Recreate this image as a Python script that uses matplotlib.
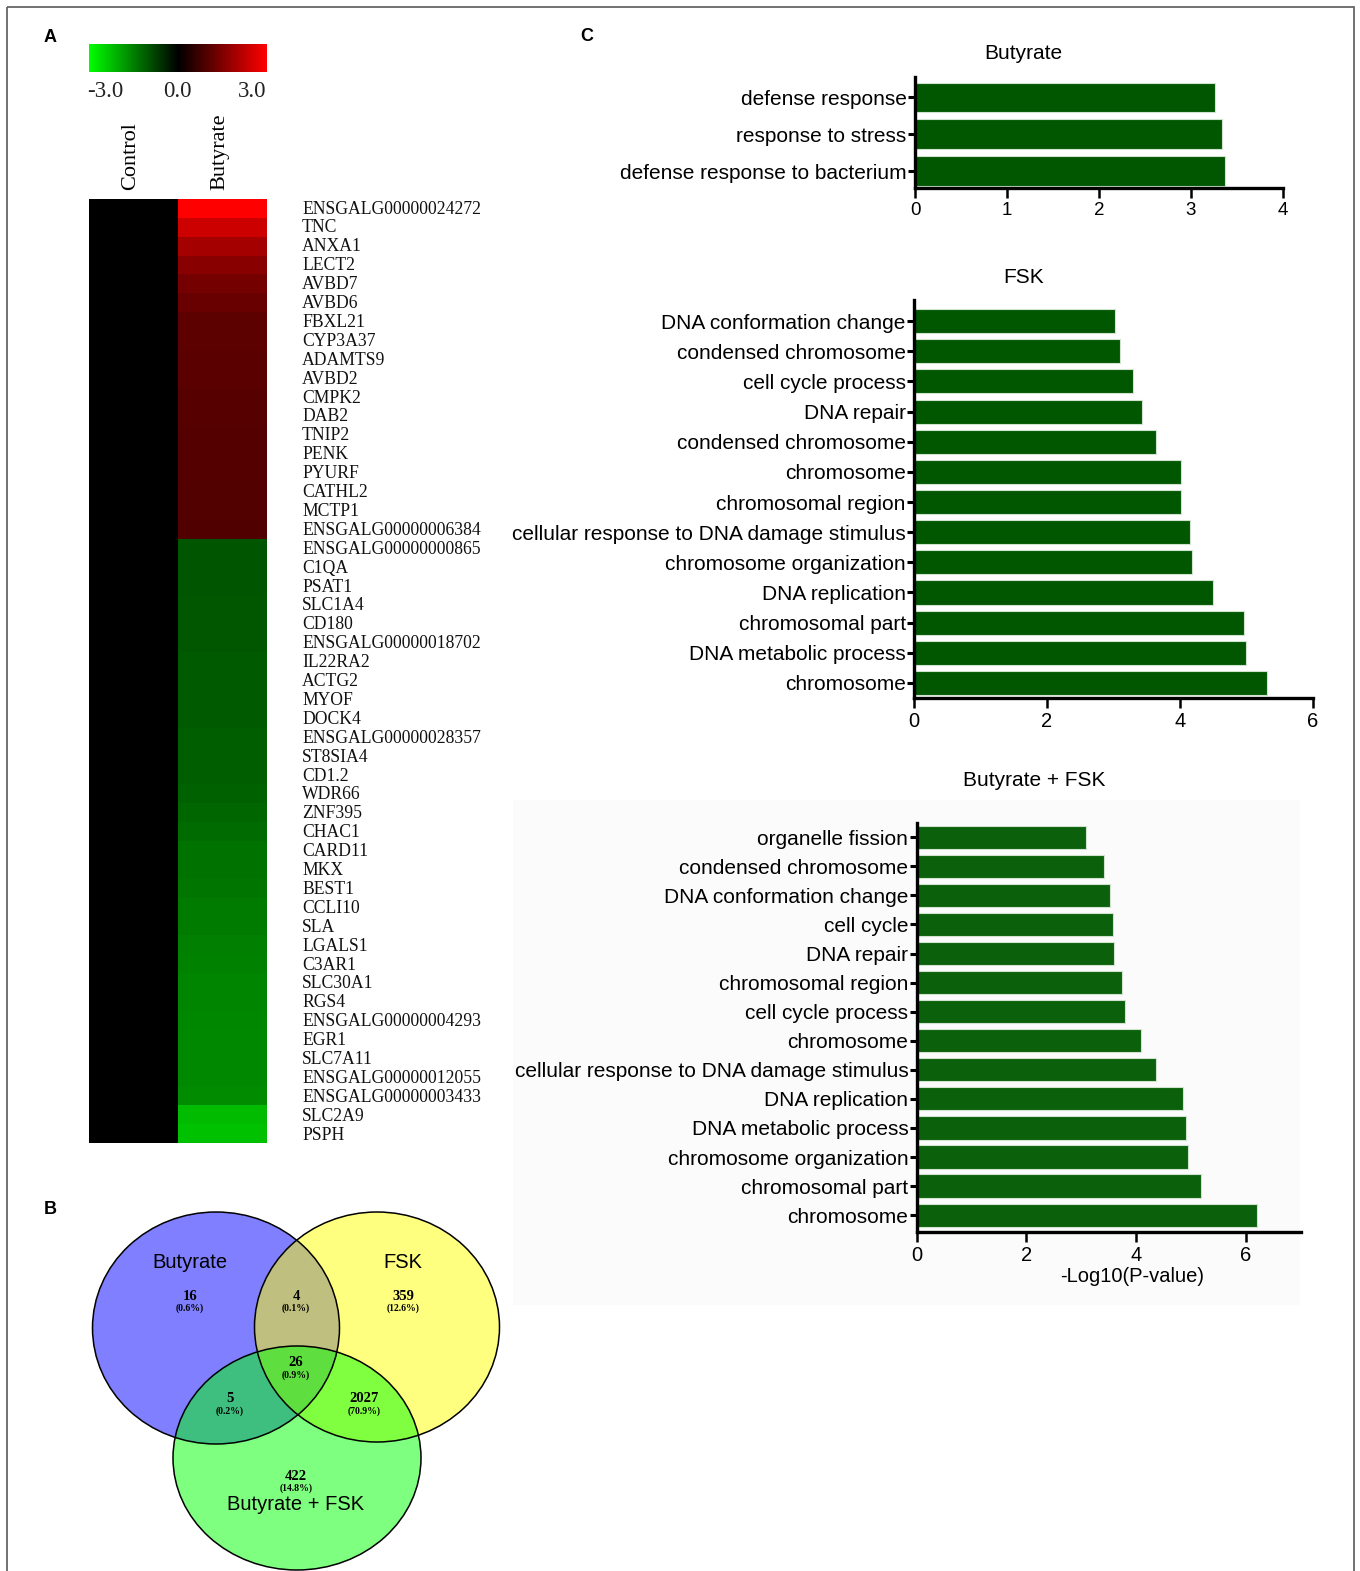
import numpy as np
import matplotlib
matplotlib.use("Agg")
import matplotlib.pyplot as plt
from matplotlib.colors import LinearSegmentedColormap
from matplotlib.patches import Ellipse, Rectangle

W, H = 1360, 1571

# ---------------- data ----------------
genes = ["ENSGALG00000024272", "TNC", "ANXA1", "LECT2", "AVBD7", "AVBD6", "FBXL21",
         "CYP3A37", "ADAMTS9", "AVBD2", "CMPK2", "DAB2", "TNIP2", "PENK", "PYURF",
         "CATHL2", "MCTP1", "ENSGALG00000006384", "ENSGALG00000000865", "C1QA", "PSAT1",
         "SLC1A4", "CD180", "ENSGALG00000018702", "IL22RA2", "ACTG2", "MYOF", "DOCK4",
         "ENSGALG00000028357", "ST8SIA4", "CD1.2", "WDR66", "ZNF395", "CHAC1", "CARD11",
         "MKX", "BEST1", "CCLI10", "SLA", "LGALS1", "C3AR1", "SLC30A1", "RGS4",
         "ENSGALG00000004293", "EGR1", "SLC7A11", "ENSGALG00000012055",
         "ENSGALG00000003433", "SLC2A9", "PSPH"]
control_vals = [0.0] * 50
butyrate_vals = [3.0, 2.4, 1.93, 1.6, 1.36, 1.22, 1.08, 1.08, 1.07, 1.06, 1.02, 1.01,
                 1.0, 1.0, 0.99, 0.98, 0.97, 0.96,
                 -1.0, -1.0, -1.0, -1.01, -1.02, -1.03, -1.06, -1.06, -1.07, -1.07,
                 -1.08, -1.09, -1.1, -1.13, -1.2, -1.25, -1.34, -1.35, -1.36, -1.44,
                 -1.45, -1.5, -1.51, -1.56, -1.57, -1.58, -1.6, -1.6, -1.61, -1.62,
                 -2.2, -2.26]
heat_cols = ["Control", "Butyrate"]
cbar_ticks = [-3.0, 0.0, 3.0]

venn_sets = ["Butyrate", "FSK", "Butyrate + FSK"]
venn_counts = {"B": 16, "F": 359, "BF": 4, "BFK": 26, "BK": 5, "FK": 2027, "K": 422}
venn_pct = {"B": "0.6%", "F": "12.6%", "BF": "0.1%", "BFK": "0.9%", "BK": "0.2%",
            "FK": "70.9%", "K": "14.8%"}

but_terms = ["defense response", "response to stress", "defense response to bacterium"]
but_vals = [3.26, 3.34, 3.37]

fsk_terms = ["DNA conformation change", "condensed chromosome", "cell cycle process",
             "DNA repair", "condensed chromosome", "chromosome", "chromosomal region",
             "cellular response to DNA damage stimulus", "chromosome organization",
             "DNA replication", "chromosomal part", "DNA metabolic process", "chromosome"]
fsk_vals = [3.03, 3.10, 3.30, 3.43, 3.64, 4.01, 4.01, 4.15, 4.18, 4.49, 4.96, 4.99, 5.31]

bf_terms = ["organelle fission", "condensed chromosome", "DNA conformation change",
            "cell cycle", "DNA repair", "chromosomal region", "cell cycle process",
            "chromosome", "cellular response to DNA damage stimulus", "DNA replication",
            "DNA metabolic process", "chromosome organization", "chromosomal part",
            "chromosome"]
bf_vals = [3.08, 3.42, 3.52, 3.58, 3.60, 3.75, 3.79, 4.10, 4.37, 4.85, 4.91, 4.95,
           5.18, 6.20]

# ---------------- figure ----------------
fig = plt.figure(figsize=(W / 100, H / 100), dpi=100)
SANS = ["Liberation Sans", "DejaVu Sans"]
SERIF = ["Liberation Serif", "DejaVu Serif"]


def px_axes(x0, y0, x1, y1, **kw):
    return fig.add_axes([x0 / W, 1 - y1 / H, (x1 - x0) / W, (y1 - y0) / H], **kw)


# overlay axes in pixel coordinates
ov = px_axes(0, 0, W, H)
ov.set_xlim(0, W)
ov.set_ylim(H, 0)
ov.axis("off")
ov.add_patch(Rectangle((7, 7), 1347, H, fill=False, ec="#666666", lw=1.3))
ov.add_patch(Rectangle((513, 800), 787, 505, fc="#fbfbfb", ec="none"))
for lab, (x, y) in {"A": (50, 37), "B": (50, 1210), "C": (587, 36)}.items():
    ov.text(x, y, lab, ha="center", va="center", fontsize=13, fontweight="bold",
            family=SANS)

# ---------------- A: heatmap ----------------
cmap = LinearSegmentedColormap.from_list("gbr", ["#00ff00", "#000000", "#ff0000"])
hm = px_axes(89, 199, 266, 1143)
data = np.column_stack([control_vals, butyrate_vals])
hm.imshow(data, cmap=cmap, vmin=-3, vmax=3, aspect="auto", interpolation="nearest")
hm.set_xticks([])
hm.set_yticks([])
for s in hm.spines.values():
    s.set_visible(False)

for i, g in enumerate(genes):
    y = 209 + i * 18.9
    ov.text(302, y, g, ha="left", va="center", fontsize=12.7, family=SERIF,
            color="#111111")

for j, c in enumerate(heat_cols):
    ov.text(131 + j * 89, 190, c, rotation=90, ha="center", va="bottom", fontsize=16,
            family=SERIF)

cb = px_axes(89, 44, 266, 72)
cb.imshow(np.linspace(-3, 3, 256)[None, :], cmap=cmap, vmin=-3, vmax=3, aspect="auto",
          extent=[-3, 3, 0, 1])
cb.axis("off")
for t, x in zip(cbar_ticks, [105, 177, 252]):
    ov.text(x, 91, f"{t:.1f}", ha="center", va="center", fontsize=16.5,
            family=SERIF, color="#222222")

# ---------------- B: Venn ----------------
ells = [((216, 1328), 247, 232, (0, 0, 1)),
        ((377, 1327), 245, 230, (1, 1, 0)),
        ((297, 1458), 248, 224, (0, 1, 0))]
for (c, w, h, col) in ells:
    ov.add_patch(Ellipse(c, w, h, fc=col, alpha=0.5, ec="none"))
for (c, w, h, col) in ells:
    ov.add_patch(Ellipse(c, w, h, fill=False, ec="black", lw=1.1))
ov.text(190, 1263, venn_sets[0], ha="center", va="center", fontsize=14.5, family=SANS)
ov.text(403, 1263, venn_sets[1], ha="center", va="center", fontsize=14.5, family=SANS)
ov.text(296, 1505, venn_sets[2], ha="center", va="center", fontsize=14.5, family=SANS)
vpos = {"B": (190, 1296), "BF": (296, 1296), "F": (403, 1296), "BFK": (296, 1363),
        "BK": (230, 1399), "FK": (364, 1399), "K": (296, 1476)}
for k, (x, y) in vpos.items():
    ov.text(x, y, str(venn_counts[k]), ha="center", va="center", fontsize=10.5,
            fontweight="bold", family=SERIF)
    ov.text(x, y + 12, f"({venn_pct[k]})", ha="center", va="center", fontsize=7,
            fontweight="bold", family=SERIF)

# ---------------- C: bar charts ----------------
def barchart(x0, x1, y_top, y_bot, terms, vals, xmax, ticks, color, yl, tick_fs=14.5,
             lab_fs=15):
    ax = px_axes(x0, y_top, x1, y_bot)
    n = len(terms)
    ax.barh(range(n), vals, height=0.8, color=color, edgecolor="#cfe3cf", linewidth=0.8)
    ax.set_xlim(0, xmax)
    ax.set_ylim(yl[1], yl[0])
    ax.set_yticks(range(n))
    ax.set_yticklabels(terms, fontsize=lab_fs, family=SANS)
    ax.set_xticks(ticks)
    ax.set_xticklabels([str(t) for t in ticks], fontsize=tick_fs, family=SANS)
    for s in ["top", "right"]:
        ax.spines[s].set_visible(False)
    for s in ["left", "bottom"]:
        ax.spines[s].set_linewidth(2.4)
    ax.tick_params(axis="y", length=5, width=2.2, pad=1)
    ax.tick_params(axis="x", length=7, width=1.8, pad=3)
    ax.patch.set_alpha(0)
    return ax


barchart(915, 1283, 77, 188, but_terms, but_vals, 4, [0, 1, 2, 3, 4], "#005700",
         (-0.55, 2.46), tick_fs=13.5)
ov.text(1023, 53, "Butyrate", ha="center", va="center", fontsize=15, family=SANS)

barchart(914, 1313, 300, 698, fsk_terms, fsk_vals, 6, [0, 2, 4, 6], "#005700",
         (-0.7, 12.5))
ov.text(1024, 277, "FSK", ha="center", va="center", fontsize=15, family=SANS)

ax3 = barchart(916.7, 1300.5, 823, 1232, bf_terms, bf_vals, 7, [0, 2, 4, 6], "#0b600b",
               (-0.49, 13.58))
ax3.set_xlabel("-Log10(P-value)", fontsize=14.5, family=SANS)
ax3.xaxis.set_label_coords((1132 - 916.7) / (1300.5 - 916.7), -0.085)
ov.text(1034, 780, "Butyrate + FSK", ha="center", va="center", fontsize=15,
        family=SANS)

fig.savefig("out.png", dpi=100)
